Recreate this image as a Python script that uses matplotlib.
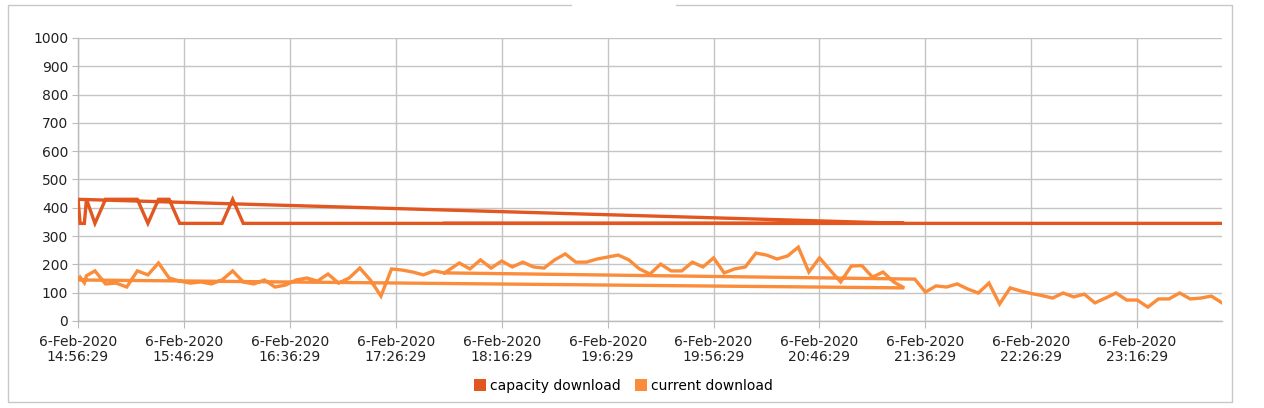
import matplotlib
matplotlib.use("Agg")
import matplotlib.pyplot as plt
from matplotlib.lines import Line2D
import numpy as np

# minutes after 6-Feb-2020 14:56:29, in the order the series was recorded
seg_a_t = [173] + list(range(180, 391, 5))
seg_a_current = [170, 205, 184, 216, 187, 212, 191, 208, 191, 187, 216, 237, 208, 208, 219,
                 226, 233, 216, 184, 166, 201, 177, 177, 208, 191, 223, 170, 184, 191, 240,
                 233, 219, 230, 261, 173, 223, 180, 138, 194, 196, 155, 173, 138, 117]
seg_a_capacity = [345] * 44

seg_b_t = [0, 1, 3, 4] + list(range(8, 174, 5))
seg_b_current = [145, 155, 135, 160,
                 177, 131, 134, 120, 177, 163, 205, 152, 141, 134, 138, 131, 145, 177,
                 138, 131, 145, 120, 127, 145, 152, 141, 166, 134, 152, 187, 145, 88,
                 184, 180, 173, 163, 177, 170]
seg_b_capacity = [430, 345, 345, 430,
                  345, 430, 430, 430, 430, 345, 430, 430, 345, 345, 345, 345, 345, 430,
                  345] + [345] * 19

seg_c_t = list(range(395, 541, 5))
seg_c_current = [148, 102, 124, 120, 131, 113, 99, 134, 60, 117, 106, 97, 90, 81, 99,
                 85, 95, 64, 81, 99, 74, 74, 49, 78, 78, 99, 78, 81, 88, 64]
seg_c_capacity = [345] * 30

tick_minutes = [0, 50, 100, 150, 200, 250, 300, 350, 400, 450, 500]
tick_times = ["14:56:29", "15:46:29", "16:36:29", "17:26:29", "18:16:29", "19:6:29",
              "19:56:29", "20:46:29", "21:36:29", "22:26:29", "23:16:29"]
tick_date = "6-Feb-2020"
series_names = ["capacity download", "current download"]
colors = ["#e2571f", "#fb8c3a"]

t = np.array(seg_a_t + seg_b_t + seg_c_t, dtype=float)
capacity = np.array(seg_a_capacity + seg_b_capacity + seg_c_capacity, dtype=float)
current = np.array(seg_a_current + seg_b_current + seg_c_current, dtype=float)

fig = plt.figure(figsize=(12.64, 4.08), dpi=100)
ax = fig.add_axes([78 / 1264, 1 - 321 / 408, (1222 - 78) / 1264, (321 - 38) / 408])

ax.plot(t, capacity, color=colors[0], lw=2.4, solid_joinstyle="miter", zorder=3)
ax.plot(t, current, color=colors[1], lw=2.4, solid_joinstyle="miter", zorder=3)

ax.set_xlim(0, 540)
ax.set_ylim(0, 1000)
ax.set_yticks(range(0, 1001, 100))
ax.set_xticks(tick_minutes)
ax.set_xticklabels([f"{tick_date}\n{s}" for s in tick_times], fontsize=10, color="#222222",
                   linespacing=1.1)
ax.tick_params(axis="y", labelsize=10, labelcolor="#222222", length=4, color="#bbbbbb", pad=3)
ax.tick_params(axis="x", length=5, color="#bbbbbb", pad=5)
ax.grid(True, color="#c4c4c4", lw=1)
ax.set_axisbelow(True)
for side in ["top", "right"]:
    ax.spines[side].set_visible(False)
for side in ["left", "bottom"]:
    ax.spines[side].set_color("#bbbbbb")
    ax.spines[side].set_linewidth(1)

handles = [Line2D([], [], marker="s", ls="none", markersize=9, color=c, markeredgewidth=0)
           for c in colors]
fig.legend(handles, series_names, loc="center", bbox_to_anchor=(623 / 1264, 1 - 386 / 408),
           ncol=2, frameon=False, fontsize=10, handletextpad=0.2, columnspacing=1.0,
           handlelength=1.0)

# surrounding frame with a gap at the top
fc = "#c8c8c8"
def fline(xs, ys):
    fig.add_artist(Line2D([x / 1264 for x in xs], [1 - y / 408 for y in ys], color=fc, lw=1))
fline([571, 8, 8, 1232, 1232, 676], [5, 5, 402, 402, 5, 5])

fig.savefig("out.png", dpi=100)
